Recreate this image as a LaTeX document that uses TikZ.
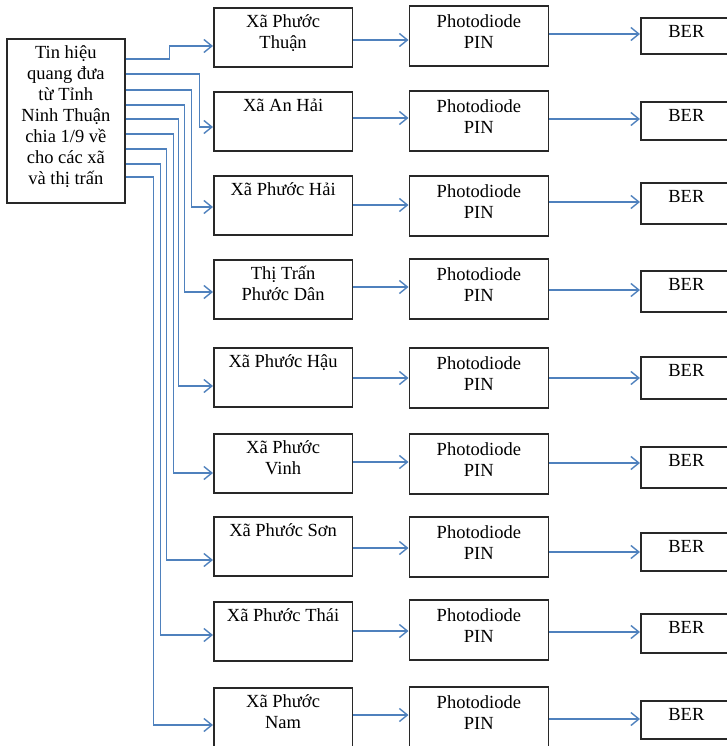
\documentclass[tikz,border=0pt]{standalone}
\usepackage{fontspec}
\setmainfont{Liberation Serif}
\usepackage{xcolor}
\usepackage{tikz}
\usetikzlibrary{arrows.meta}

\definecolor{linkblue}{RGB}{79,129,189}
\definecolor{boxgray}{RGB}{40,40,40}
\newcommand{\boxtxt}[4][20]{\parbox[t][#3pt][t]{#2pt}{\centering\rule{0pt}{#1pt}#4}}
\tikzset{
  blk/.style={draw=boxgray, line width=1.7pt, anchor=north west, inner sep=0pt,
    font=\fontsize{18.5}{21}\selectfont},
  link/.style={->, draw=linkblue, line width=1.4pt},
}

\begin{document}
\begin{tikzpicture}[>={Straight Barb[length=8pt,width=13pt]}, x=1pt, y=-1pt]
    \useasboundingbox (0,0) rectangle (727,746);

    % Khối nguồn
    \node[blk] (src) at (6,38) {\boxtxt{118}{164}{Tin hiệu\\quang đưa\\từ Tỉnh\\Ninh Thuận\\chia 1/9 về\\cho các xã\\và thị trấn}};

    % Các xã và thị trấn
    \node[blk] (xa1) at (213,7)   {\boxtxt{138.5}{59}{Xã Phước\\Thuận}};
    \node[blk] (xa2) at (213,91)  {\boxtxt{138.5}{59}{Xã An Hải}};
    \node[blk] (xa3) at (213,175) {\boxtxt{138.5}{59}{Xã Phước Hải}};
    \node[blk] (xa4) at (213,259) {\boxtxt{138.5}{59}{Thị Trấn\\Phước Dân}};
    \node[blk] (xa5) at (213,347) {\boxtxt{138.5}{59}{Xã Phước Hậu}};
    \node[blk] (xa6) at (213,433) {\boxtxt{138.5}{59}{Xã Phước\\Vinh}};
    \node[blk] (xa7) at (213,516) {\boxtxt{138.5}{59}{Xã Phước Sơn}};
    \node[blk] (xa8) at (213,601) {\boxtxt{138.5}{59}{Xã Phước Thái}};
    \node[blk] (xa9) at (213,687) {\boxtxt{138.5}{59}{Xã Phước\\Nam}};

    % Photodiode PIN
    \node[blk] (pd1) at (408.5,5)   {\boxtxt[22]{139}{60}{Photodiode\\PIN}};
    \node[blk] (pd2) at (408.5,90)  {\boxtxt[22]{139}{60}{Photodiode\\PIN}};
    \node[blk] (pd3) at (408.5,175) {\boxtxt[22]{139}{60}{Photodiode\\PIN}};
    \node[blk] (pd4) at (408.5,258) {\boxtxt[22]{139}{60}{Photodiode\\PIN}};
    \node[blk] (pd5) at (408.5,347) {\boxtxt[22]{139}{60}{Photodiode\\PIN}};
    \node[blk] (pd6) at (408.5,433) {\boxtxt[22]{139}{60}{Photodiode\\PIN}};
    \node[blk] (pd7) at (408.5,516) {\boxtxt[22]{139}{60}{Photodiode\\PIN}};
    \node[blk] (pd8) at (408.5,599) {\boxtxt[22]{139}{60}{Photodiode\\PIN}};
    \node[blk] (pd9) at (408.5,686) {\boxtxt[22]{139}{60}{Photodiode\\PIN}};

    % Bộ đo BER
    \node[blk] (ber1) at (640,17)  {\boxtxt{91}{36}{BER}};
    \node[blk] (ber2) at (640,101) {\boxtxt{91}{38}{BER}};
    \node[blk] (ber3) at (640,182) {\boxtxt{91}{41}{BER}};
    \node[blk] (ber4) at (640,270) {\boxtxt{91}{41}{BER}};
    \node[blk] (ber5) at (640,356) {\boxtxt{91}{42}{BER}};
    \node[blk] (ber6) at (640,446) {\boxtxt{91}{41}{BER}};
    \node[blk] (ber7) at (640,532) {\boxtxt{91}{38}{BER}};
    \node[blk] (ber8) at (640,613) {\boxtxt{91}{39}{BER}};
    \node[blk] (ber9) at (640,700) {\boxtxt{91}{38}{BER}};

    % Chia tín hiệu về các xã
    \draw[link] ([yshift=-21pt]src.north east)  -- ++(44,0) |- ([yshift=-39pt]xa1.north west);
    \draw[link] ([yshift=-36pt]src.north east)  -- ++(74,0) |- ([yshift=-36pt]xa2.north west);
    \draw[link] ([yshift=-52pt]src.north east)  -- ++(66,0) |- ([yshift=-32pt]xa3.north west);
    \draw[link] ([yshift=-67pt]src.north east)  -- ++(59,0) |- ([yshift=-33pt]xa4.north west);
    \draw[link] ([yshift=-81pt]src.north east)  -- ++(53,0) |- ([yshift=-39pt]xa5.north west);
    \draw[link] ([yshift=-96pt]src.north east)  -- ++(48,0) |- ([yshift=-40pt]xa6.north west);
    \draw[link] ([yshift=-111pt]src.north east) -- ++(41,0) |- ([yshift=-44pt]xa7.north west);
    \draw[link] ([yshift=-126pt]src.north east) -- ++(35,0) |- ([yshift=-34pt]xa8.north west);
    \draw[link] ([yshift=-139pt]src.north east) -- ++(28,0) |- ([yshift=-38pt]xa9.north west);

    % Xã -> Photodiode
    \draw[link] ([yshift=-33pt]xa1.north east) -- ([yshift=-35pt]pd1.north west);
    \draw[link] ([yshift=-27pt]xa2.north east) -- ([yshift=-28pt]pd2.north west);
    \draw[link] ([yshift=-30pt]xa3.north east) -- ([yshift=-30pt]pd3.north west);
    \draw[link] ([yshift=-28pt]xa4.north east) -- ([yshift=-29pt]pd4.north west);
    \draw[link] ([yshift=-31pt]xa5.north east) -- ([yshift=-31pt]pd5.north west);
    \draw[link] ([yshift=-29pt]xa6.north east) -- ([yshift=-29pt]pd6.north west);
    \draw[link] ([yshift=-32pt]xa7.north east) -- ([yshift=-32pt]pd7.north west);
    \draw[link] ([yshift=-30pt]xa8.north east) -- ([yshift=-32pt]pd8.north west);
    \draw[link] ([yshift=-28pt]xa9.north east) -- ([yshift=-29pt]pd9.north west);

    % Photodiode -> BER
    \draw[link] ([yshift=-29pt]pd1.north east) -- ([yshift=-17pt]ber1.north west);
    \draw[link] ([yshift=-29pt]pd2.north east) -- ([yshift=-18pt]ber2.north west);
    \draw[link] ([yshift=-27pt]pd3.north east) -- ([yshift=-20pt]ber3.north west);
    \draw[link] ([yshift=-32pt]pd4.north east) -- ([yshift=-20pt]ber4.north west);
    \draw[link] ([yshift=-31pt]pd5.north east) -- ([yshift=-22pt]ber5.north west);
    \draw[link] ([yshift=-30pt]pd6.north east) -- ([yshift=-17pt]ber6.north west);
    \draw[link] ([yshift=-36pt]pd7.north east) -- ([yshift=-20pt]ber7.north west);
    \draw[link] ([yshift=-33pt]pd8.north east) -- ([yshift=-19pt]ber8.north west);
    \draw[link] ([yshift=-33pt]pd9.north east) -- ([yshift=-19pt]ber9.north west);
\end{tikzpicture}
\end{document}
